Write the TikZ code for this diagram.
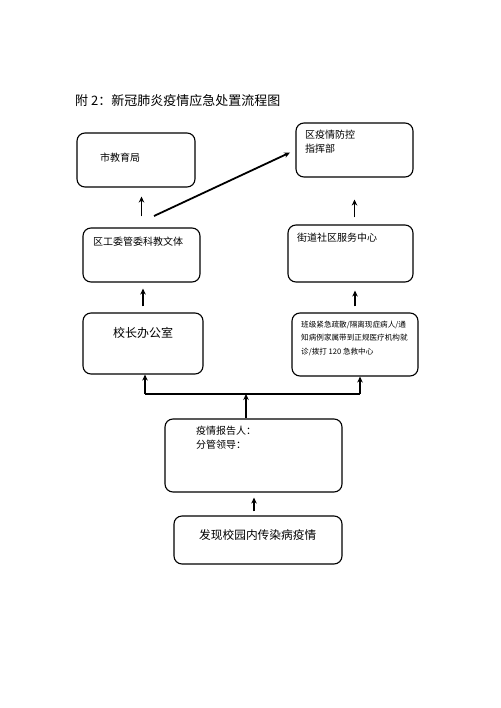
\documentclass[tikz,border=0pt]{standalone}
\usepackage{fontspec}
\setmainfont{Noto Sans CJK SC}
\usetikzlibrary{arrows.meta}

\tikzset{
  box/.style={draw, line width=1.1pt, rounded corners=8pt, inner sep=0pt},
  arr/.style={line width=1.8pt, -{Stealth[length=6pt,width=5.5pt]}},
  txt/.style={anchor=west, inner sep=0pt, align=left, font=\fontsize{10}{14}\selectfont},
}

\begin{document}
\begin{tikzpicture}[x=1pt, y=-1pt]
    \useasboundingbox (0,0) rectangle (500,708);

    % Title
    \node[txt, font=\fontsize{13}{15}\selectfont] (title) at (75,101) {附 2：新冠肺炎疫情应急处置流程图};

    % Boxes
    \node[box, minimum width=118pt, minimum height=54pt] (edu) at (136,160) {};
    \node[box, minimum width=117pt, minimum height=54pt] (cmd) at (354.5,150) {};
    \node[box, minimum width=117pt, minimum height=54pt] (gw) at (141.5,255) {};
    \node[box, minimum width=125pt, minimum height=57pt] (jd) at (350.5,253.5) {};
    \node[box, minimum width=120pt, minimum height=61pt] (xz) at (143,343.5) {};
    \node[box, minimum width=126pt, minimum height=63pt] (bj) at (355,344.5) {};
    \node[box, minimum width=177pt, minimum height=73pt] (bg) at (253.5,455.5) {};
    \node[box, minimum width=168pt, minimum height=48pt] (fx) at (258,540) {};

    % Texts
    \node[txt] (eduT) at (100,158) {市教育局};
    \node[txt, anchor=north west] (cmdT) at (305,130) {区疫情防控\\指挥部};
    \node[txt] (gwT) at (93,242) {区工委管委科教文体};
    \node[txt] (jdT) at (297,238) {街道社区服务中心};
    \node[txt, font=\fontsize{12}{14}\selectfont] (xzT) at (113,333) {校长办公室};
    \node[txt, anchor=north west, font=\fontsize{7.6}{13.2}\selectfont] (bjT) at (301,321) {班级紧急疏散/隔离现症病人/通\\知病例家属带到正规医疗机构就\\诊/拨打 120 急救中心};
    \node[txt, anchor=north west] (bgT) at (196,426) {疫情报告人：\\分管领导：};
    \node[txt, font=\fontsize{11.7}{14}\selectfont] (fxT) at (199,535) {发现校园内传染病疫情};

    % Upward arrows
    \draw[arr, shorten <=11pt, shorten >=9pt] (gw.north) -- (gw.north |- edu.south);
    \coordinate (d1) at (154,216);
    \draw[arr, shorten >=6pt] (d1) -- (cmd.west);
    \coordinate (j1) at ([xshift=4pt]jd.north);
    \draw[arr, shorten <=7pt, shorten >=22pt] (j1) -- (j1 |- cmd.south);
    \draw[arr, shorten <=6pt, shorten >=6pt] (xz.north) -- (xz.north |- gw.south);
    \draw[arr, shorten <=6pt, shorten >=8pt] (bj.north) -- (bj.north |- jd.south);

    % Branch from report box
    \coordinate (busL) at (145,394);
    \coordinate (busR) at (360,394);
    \coordinate (busM) at (246,394);
    \draw[line width=1.8pt] (busL) -- (busR);
    \draw[arr] (busL) -- (busL |- xz.south);
    \draw[arr] (busR) -- (busR |- bj.south);
    \draw[arr] (bg.north -| busM) -- (busM);

    % Bottom arrow
    \coordinate (f1) at ([xshift=-4pt]fx.north);
    \draw[arr, shorten <=4pt, shorten >=5pt] (f1) -- (f1 |- bg.south);
\end{tikzpicture}
\end{document}
